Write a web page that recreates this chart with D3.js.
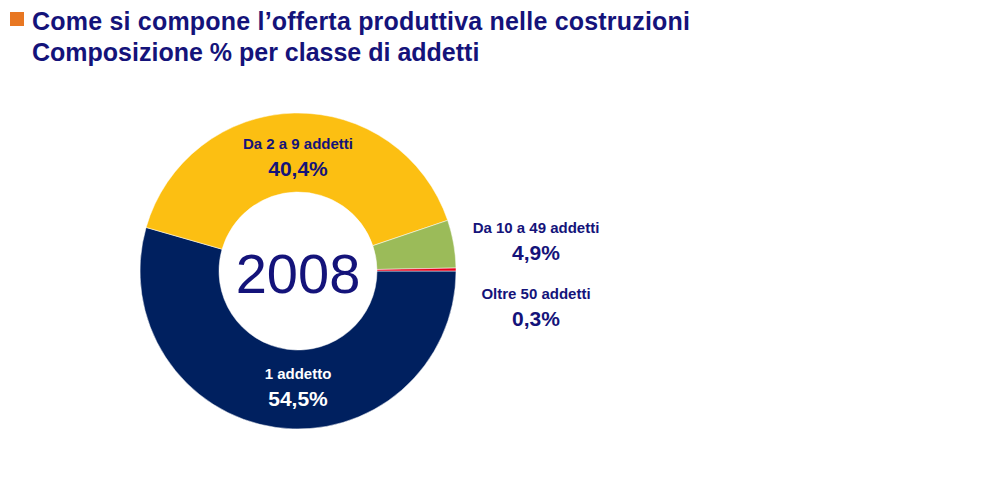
<!DOCTYPE html>
<html lang="it">
<head>
<meta charset="UTF-8">
<script src="https://d3js.org/d3.v7.min.js"></script>
<style>
  body { margin: 0; background: #fff; }
  text { font-family: "Liberation Sans", Arial, sans-serif; }
</style>
</head>
<body>
<svg id="chart" width="994" height="478"></svg>
<script>
// data
const categories = ["1 addetto", "Da 2 a 9 addetti", "Da 10 a 49 addetti", "Oltre 50 addetti"];
const values = [54.5, 40.4, 4.9, 0.3];
const valueLabels = ["54,5%", "40,4%", "4,9%", "0,3%"];
const colors = ["#00205f", "#fcbf12", "#9bbb59", "#e3001b"];

const svg = d3.select("#chart");
const navy = "#14137a";

// title
svg.append("rect").attr("x", 10).attr("y", 12).attr("width", 14).attr("height", 14).attr("fill", "#e87722");
svg.append("text").attr("x", 32).attr("y", 30).attr("fill", navy)
  .attr("font-size", 25).attr("font-weight", "bold").attr("textLength", 658)
  .text("Come si compone l\u2019offerta produttiva nelle costruzioni");
svg.append("text").attr("x", 32).attr("y", 61).attr("fill", navy)
  .attr("font-size", 25).attr("font-weight", "bold")
  .text("Composizione % per classe di addetti");

const cx = 298, cy = 271, rOut = 158, rIn = 79;
const g = svg.append("g").attr("transform", `translate(${cx},${cy})`);

const pie = d3.pie().sort(null).value(d => d)
  .startAngle(Math.PI / 2).endAngle(Math.PI / 2 + 2 * Math.PI);
const arcs = pie(values);
const arc = d3.arc().innerRadius(rIn).outerRadius(rOut);

g.selectAll("path").data(arcs).enter().append("path")
  .attr("d", arc).attr("fill", (d, i) => colors[i])
  .attr("stroke", "#fff").attr("stroke-width", 0.5);

g.append("text").attr("text-anchor", "middle").attr("y", 22)
  .attr("font-size", 56).attr("fill", navy).text("2008");

// labels: positions relative to centre
const labelPos = [[0, 108, "#fff"], [0, -122, navy], [238, -38, navy], [238, 28, navy]];
labelPos.forEach((p, i) => {
  const t = g.append("text").attr("text-anchor", "middle").attr("fill", p[2]).attr("font-weight", "bold");
  t.append("tspan").attr("x", p[0]).attr("y", p[1]).attr("font-size", 15).text(categories[i]);
  t.append("tspan").attr("x", p[0]).attr("y", p[1] + 27).attr("font-size", 21).text(valueLabels[i]);
});
</script>
</body>
</html>
